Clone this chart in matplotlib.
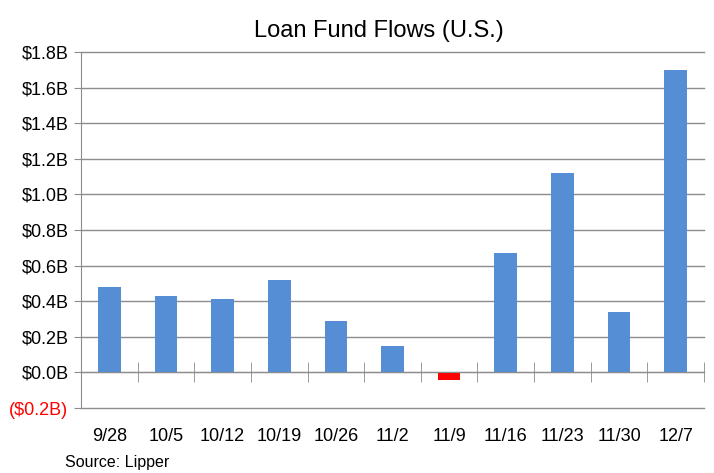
import numpy as np
import matplotlib.pyplot as plt
from matplotlib.ticker import FixedLocator

plt.rcParams['font.family'] = ['Liberation Sans Narrow', 'Liberation Sans', 'DejaVu Sans']

weeks = ['9/28', '10/5', '10/12', '10/19', '10/26', '11/2', '11/9', '11/16', '11/23', '11/30', '12/7']
flows = [0.48, 0.43, 0.415, 0.52, 0.29, 0.146, -0.043, 0.67, 1.12, 0.337, 1.70]
yticks = [-0.2, 0.0, 0.2, 0.4, 0.6, 0.8, 1.0, 1.2, 1.4, 1.6, 1.8]
ylabels = ['($0.2B)', '$0.0B', '$0.2B', '$0.4B', '$0.6B', '$0.8B', '$1.0B', '$1.2B',
           '$1.4B', '$1.6B', '$1.8B']

blue = '#558ED5'
red = '#FF0000'
grid = '#8C8C8C'

fig = plt.figure(figsize=(7.14, 4.73), dpi=100)
ax = fig.add_axes([0.1134, 0.1374, 0.8726, 0.7526])

x = np.arange(len(weeks))
colors = [blue if v >= 0 else red for v in flows]
ax.bar(x, flows, width=0.4, color=colors, zorder=3)

ax.set_xlim(-0.5, len(weeks) - 0.5)
ax.set_ylim(-0.2, 1.8)
ax.set_yticks(yticks)
ax.set_yticklabels(ylabels, fontsize=13)
ax.get_yticklabels()[0].set_color(red)
ax.yaxis.grid(True, color=grid, lw=1)
for gl in ax.get_ygridlines():
    gl.set_clip_on(False)
ax.tick_params(axis='y', length=5, color=grid, pad=4)

for s in ['top', 'right']:
    ax.spines[s].set_visible(False)
ax.spines['left'].set_color(grid)
ax.spines['bottom'].set_position(('data', 0))
ax.spines['bottom'].set_color(grid)
ax.spines['bottom'].set_zorder(4)

ax.set_xticks(x)
ax.set_xticklabels(weeks, fontsize=13)
ax.xaxis.set_minor_locator(FixedLocator(np.arange(len(weeks) + 1) - 0.5))
ax.tick_params(axis='x', which='major', length=0, pad=40)
ax.tick_params(axis='x', which='minor', direction='inout', length=14, color=grid)

fig.text(0.53, 0.935, 'Loan Fund Flows (U.S.)', ha='center', va='center', fontsize=17)
fig.text(0.091, 0.023, 'Source: Lipper', ha='left', va='center', fontsize=11.5)

fig.savefig('out.png', dpi=100)
